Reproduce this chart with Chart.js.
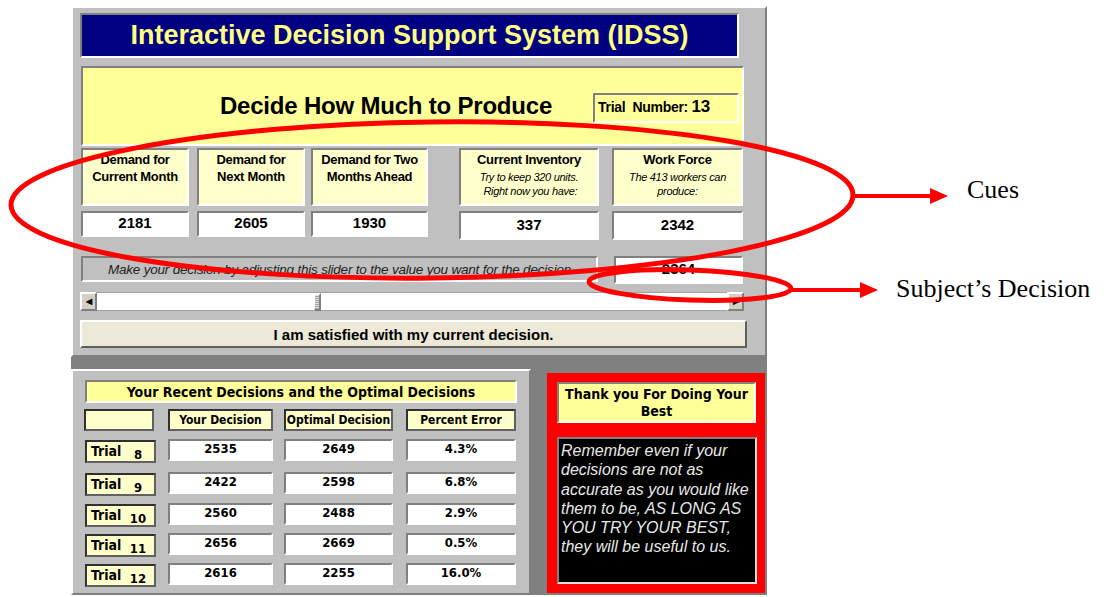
<!DOCTYPE html>
<html>
<head>
<meta charset="utf-8">
<script src="https://cdn.jsdelivr.net/npm/chart.js"></script>
<style>
  * { box-sizing: border-box; }
  body { margin: 0; background: #fff; width: 1113px; height: 597px; overflow: hidden; position: relative;
         font-family: "Liberation Sans", Arial, sans-serif; }
  .abs { position: absolute; }
  .raised { border: 2px solid; border-color: #fff #808080 #808080 #fff; }
  .inset { border: 2px solid; border-color: #808080 #fff #fff #808080; }
  .dark { border: 2px solid #303030; border-right-color: #606060; border-bottom-color: #606060; }
  .ms { font-family: "DejaVu Sans Condensed", "DejaVu Sans", sans-serif; }
  .cell { display: flex; align-items: center; justify-content: center; font-weight: bold; color: #000; }
  #overlay { position: absolute; left: 0; top: 0; pointer-events: none; }
</style>
</head>
<body>
<div id="ui"></div>
<div class="abs" style="left:967px;top:175px;font:26px 'Liberation Serif',serif;color:#000;">Cues</div>
<div class="abs" style="left:896px;top:274px;font:26px 'Liberation Serif',serif;color:#000;">Subject’s Decision</div>
<canvas id="overlay" width="1113" height="597"></canvas>
<script>
// cue values shown to the subject
const cueTitles = ["Demand for<br>Current Month", "Demand for<br>Next Month", "Demand for Two<br>Months Ahead", "Current Inventory", "Work Force"];
const cueNotes = ["", "", "", "Try to keep 320 units.<br>&nbsp;Right now you have:", "The 413 workers can<br>produce:"];
const cueValues = [2181, 2605, 1930, 337, 2342];
const trialNumber = 13;
const currentDecision = 2364;

// recent decisions table
const columnHeaders = ["", "Your Decision", "Optimal Decision", "Percent Error"];
const trials = [8, 9, 10, 11, 12];
const yourDecisions = [2535, 2422, 2560, 2656, 2616];
const optimalDecisions = [2649, 2598, 2488, 2669, 2255];
const percentErrors = ["4.3%", "6.8%", "2.9%", "0.5%", "16.0%"];

const messageLines = ["Remember even if your", "decisions are not as", "accurate as you would like",
                      "them to be, AS LONG AS", "YOU TRY YOUR BEST,", "they will be useful to us."];

const ui = document.getElementById("ui");
function box(x, y, w, h, cls, style, html) {
    const d = document.createElement("div");
    d.className = "abs " + (cls || "");
    d.style.cssText = `left:${x}px;top:${y}px;width:${w}px;height:${h}px;` + (style || "");
    d.innerHTML = html || "";
    ui.appendChild(d);
    return d;
}

// frame
box(71, 6, 696, 589, "", "background:#808080;");
box(71, 6, 696, 351, "raised", "background:#c0c0c0;");
box(71, 369, 460, 226, "raised", "background:#c0c0c0;");

// title
box(80, 13, 659, 45, "", "background:#000080;border:2px solid;border-color:#808080 #fff #fff #808080;color:#ffff80;font-weight:bold;font-size:27px;display:flex;align-items:center;justify-content:center;",
    "Interactive Decision Support System (IDSS)");
box(81, 66, 663, 80, "", "background:#ffff99;border:2px solid;border-color:#808080 #fff #fff #808080;");
box(150, 91, 472, 30, "cell", "font-size:24px;letter-spacing:-0.2px;", "Decide How Much to Produce");
box(593, 93, 146, 30, "inset", "background:#ffff99;font-weight:bold;font-size:14px;padding:2px 0 0 3px;letter-spacing:-0.3px;",
    `Trial&nbsp; Number: <span style="font-size:17px">${trialNumber}</span>`);

// cue boxes
const cueX = [81, 197, 311, 459, 612];
const cueW = [108, 108, 117, 140, 131];
cueValues.forEach((v, i) => {
    const note = cueNotes[i] ? `<div style="font-style:italic;font-weight:normal;font-size:11px;line-height:14px;margin-top:2px">${cueNotes[i]}</div>` : "";
    box(cueX[i], 148, cueW[i], 58, "inset", "background:#ffffcc;text-align:center;font-weight:bold;font-size:13px;line-height:17px;padding-top:1px;letter-spacing:-0.3px;",
        cueTitles[i] + note);
    const tall = i >= 3 ? 29 : 26;
    box(cueX[i], 211, cueW[i], tall, "inset cell", "background:#fff;font-size:15px;padding-bottom:3px;", String(v));
});

// slider
box(81, 256, 517, 26, "inset", "font-style:italic;font-size:13.5px;display:flex;align-items:center;justify-content:center;color:#202020;letter-spacing:-0.2px;",
    "Make your decision by adjusting this slider to the value you want for the decision");
box(614, 256, 129, 28, "inset cell", "background:#fff;font-size:15px;padding-bottom:4px;", String(currentDecision));
box(80, 292, 664, 19, "", "background:#fff;border:1px solid #a0a0a0;");
box(80, 292, 17, 19, "raised cell", "background:#d4d0c8;font-size:8px;", "◀");
box(727, 292, 17, 19, "raised cell", "background:#d4d0c8;font-size:8px;", "▶");
box(313, 293, 8, 18, "raised", "background:repeating-linear-gradient(0deg,#a0a0a0 0 1px,#e0e0e0 1px 2px);");
box(80, 320, 667, 28, "raised cell", "background:#ece9d8;font-size:15px;border-color:#fff #606060 #606060 #fff;",
    "I am satisfied with my current decision.");

// table
box(85, 380, 432, 23, "inset cell ms", "background:#ffff99;font-size:14px;",
    "Your Recent Decisions and the Optimal Decisions");
const colX = [84, 168, 284, 406];
const colW = [70, 105, 109, 110];
columnHeaders.forEach((h, i) => {
    box(colX[i], 409, colW[i], 22, "dark cell ms", "background:#ffffcc;font-size:12px;", h);
});
const rowY = [439, 472, 503, 533, 563];
trials.forEach((t, r) => {
    box(85, rowY[r] + 1, 71, 23, "dark ms", "background:#ffffcc;font-weight:bold;font-size:14px;padding:1px 0 0 4px;white-space:pre;",
        `Trial <span style="font-size:13px;position:relative;top:3px">${String(t).padStart(3)}</span>`);
    [yourDecisions[r], optimalDecisions[r], percentErrors[r]].forEach((v, c) => {
        box(colX[c + 1], rowY[r], colW[c + 1], 22, "inset cell ms", "background:#fff;font-size:13px;padding-bottom:3px;", String(v));
    });
});

// message panel
box(547, 373, 218, 220, "", "background:#ff0000;");
box(557, 382, 199, 41, "inset cell ms", "background:#ffff99;font-size:14px;line-height:17px;text-align:center;",
    "Thank you For Doing Your<br>Best");
box(557, 437, 200, 147, "", "background:#000;border:2px solid;border-color:#808080 #e0e0e0 #e0e0e0 #808080;color:#e8e8e8;font-style:italic;font-size:16px;line-height:19.3px;padding:2px 0 0 2px;",
    messageLines.join("<br>"));

// annotation layer: ellipses and arrows drawn on a page-sized linear scale
const ellipses = [
    { cx: 432, cy: 200, rx: 421, ry: 78, rot: -0.012 },
    { cx: 690, cy: 285, rx: 101, ry: 15, rot: 0.035 }
];
const arrows = [
    { x1: 852, x2: 948, y: 196 },
    { x1: 790, x2: 878, y: 290 }
];

const annotationPlugin = {
    id: "annotations",
    afterDraw(chart) {
        const { ctx, scales: { x, y } } = chart;
        ctx.save();
        ctx.strokeStyle = "#ff0000";
        ctx.fillStyle = "#ff0000";
        ctx.lineWidth = 5;
        ellipses.forEach(e => {
            const px = x.getPixelForValue(e.cx), py = y.getPixelForValue(e.cy);
            const rx = x.getPixelForValue(e.cx + e.rx) - px;
            const ry = y.getPixelForValue(e.cy + e.ry) - py;
            ctx.beginPath();
            ctx.ellipse(px, py, rx, ry, e.rot, 0, Math.PI * 2);
            ctx.stroke();
        });
        ctx.lineWidth = 4;
        arrows.forEach(a => {
            const x1 = x.getPixelForValue(a.x1), x2 = x.getPixelForValue(a.x2), py = y.getPixelForValue(a.y);
            ctx.beginPath();
            ctx.moveTo(x1, py);
            ctx.lineTo(x2 - 16, py);
            ctx.stroke();
            ctx.beginPath();
            ctx.moveTo(x2, py);
            ctx.lineTo(x2 - 18, py - 8);
            ctx.lineTo(x2 - 18, py + 8);
            ctx.closePath();
            ctx.fill();
        });
        ctx.restore();
    }
};

new Chart(document.getElementById("overlay").getContext("2d"), {
    type: "scatter",
    data: { datasets: [] },
    options: {
        responsive: false,
        animation: false,
        layout: { padding: 0 },
        scales: {
            x: { type: "linear", min: 0, max: 1113, display: false },
            y: { type: "linear", min: 0, max: 597, reverse: true, display: false }
        },
        plugins: { legend: { display: false }, tooltip: { enabled: false } }
    },
    plugins: [annotationPlugin]
});
</script>
</body>
</html>
